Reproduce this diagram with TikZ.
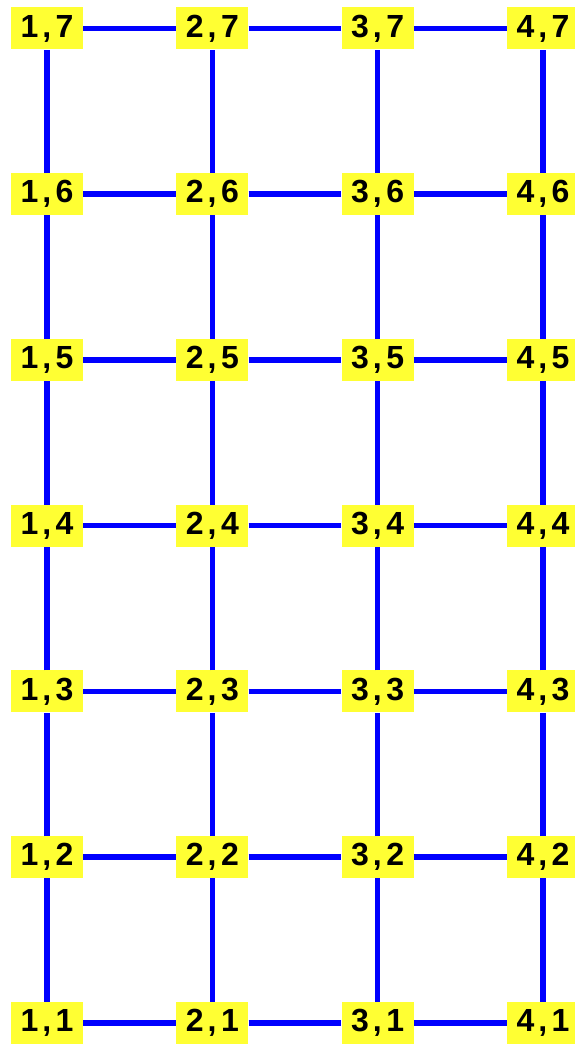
\documentclass[tikz,border=0pt]{standalone}
\usepackage{fontspec}
\setmainfont{Liberation Sans}
\definecolor{cellyellow}{RGB}{255,255,51}
\definecolor{linkblue}{RGB}{0,0,255}
\begin{document}
\begin{tikzpicture}[x=1pt,y=1pt,
  cell/.style={fill=cellyellow, minimum width=72pt, minimum height=42pt, inner sep=0pt, font=\fontsize{32}{36}\selectfont\bfseries},
  link/.style={draw=linkblue, line width=5.5pt}]
\useasboundingbox (0,0) rectangle (574,1044);
\foreach \i in {1,...,4}{
  \foreach \j in {1,...,7}{
    \node[cell] (n\i\j) at ({47+165.33*(\i-1)}, {1044-1023+165.75*(\j-1)}) {\i\kern4pt,\kern4.5pt\j};
  }
}
\foreach \i in {1,...,4}{
  \foreach \j [evaluate=\j as \k using int(\j+1)] in {1,...,6}{
    \draw[link] (n\i\j) -- (n\i\k);
  }
}
\foreach \j in {1,...,7}{
  \foreach \i [evaluate=\i as \k using int(\i+1)] in {1,...,3}{
    \draw[link] (n\i\j) -- (n\k\j);
  }
}
\end{tikzpicture}
\end{document}
